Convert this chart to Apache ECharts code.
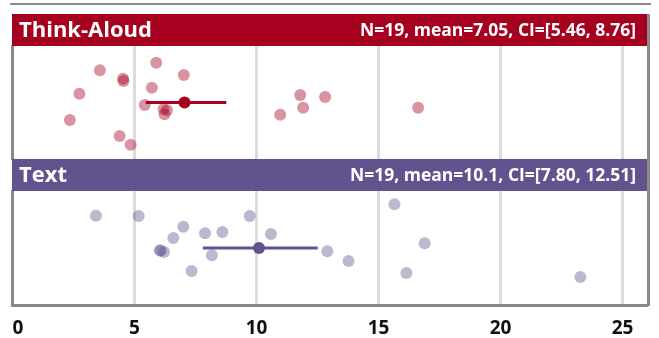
<!DOCTYPE html>
<html>
<head>
<meta charset="utf-8">
<script src="https://cdn.jsdelivr.net/npm/echarts@6/dist/echarts.min.js"></script>
<style>
  html, body { margin: 0; padding: 0; background: #fff; }
  #chart { width: 659px; height: 338px; }
</style>
</head>
<body>
<div id="chart"></div>
<script>
// Think-Aloud condition: observed values and vertical jitter (0..1 within panel)
const thinkAloudValues = [3.58, 4.53, 4.55, 2.74, 2.35, 4.39, 4.84, 5.89, 7.02, 5.71,
                          5.42, 6.19, 6.33, 6.23, 10.97, 11.79, 11.91, 12.81, 16.62];
const thinkAloudJitter = [0.785, 0.711, 0.690, 0.578, 0.345, 0.204, 0.127, 0.852, 0.743, 0.631,
                          0.478, 0.442, 0.431, 0.396, 0.392, 0.566, 0.454, 0.549, 0.454];
const thinkAloudStats = { n: 19, mean: 7.05, lo: 5.46, hi: 8.76 };

// Text condition
const textValues = [3.42, 5.17, 7.00, 6.59, 6.04, 6.07, 6.21, 7.34, 7.89, 8.60,
                    9.72, 10.59, 8.17, 12.90, 13.77, 15.65, 16.89, 16.14, 23.27];
const textJitter = [0.783, 0.781, 0.687, 0.588, 0.480, 0.475, 0.465, 0.298, 0.629, 0.640,
                    0.781, 0.623, 0.436, 0.471, 0.386, 0.883, 0.541, 0.281, 0.246];
const textStats = { n: 19, mean: 10.1, lo: 7.80, hi: 12.51 };

const xTicks = [0, 5, 10, 15, 20, 25];
const xMax = 26;

const RED = '#a6001f';
const PURPLE = '#62538f';
const FONT = '"Open Sans", sans-serif';

const chart = echarts.init(document.getElementById('chart'), null, { renderer: 'canvas' });

const W = 659;
const L = 12.5, R = 647;
const panels = [
  { top: 46, height: 113, headerTop: 14 },
  { top: 191, height: 114, headerTop: 159 }
];

function xAxisFor(i, showLabels) {
  return {
    type: 'value', gridIndex: i, min: 0, max: xMax, interval: 5,
    axisLine: showLabels ? { show: true, lineStyle: { color: '#888', width: 3 } } : { show: false },
    axisTick: { show: false },
    splitLine: { show: true, showMinLine: false, showMaxLine: false,
                 lineStyle: { color: '#dcdcdc', width: 3 } },
    axisLabel: showLabels ? {
      show: true, margin: 14, color: '#111', fontSize: 19, fontWeight: 'bold', fontFamily: FONT,
      showMaxLabel: false, alignMinLabel: 'left',
      formatter: v => (xTicks.indexOf(v) >= 0 ? String(v) : '')
    } : { show: false }
  };
}

function yAxisFor(i) {
  return {
    type: 'value', gridIndex: i, min: 0, max: 1,
    axisLine: { show: true, onZero: false, lineStyle: { color: '#888', width: 3 } },
    axisTick: { show: false }, axisLabel: { show: false }, splitLine: { show: false }
  };
}

function panelSeries(i, values, jitter, stats, color) {
  return [
    {
      type: 'scatter', xAxisIndex: i, yAxisIndex: i, symbolSize: 12, z: 2,
      itemStyle: { color: color, opacity: 0.42 },
      data: values.map((v, k) => [v, jitter[k]])
    },
    {
      type: 'line', xAxisIndex: i, yAxisIndex: i, symbol: 'none', z: 3,
      lineStyle: { color: color, width: 3 },
      data: [[stats.lo, 0.5], [stats.hi, 0.5]]
    },
    {
      type: 'scatter', xAxisIndex: i, yAxisIndex: i, symbolSize: 12, z: 4,
      itemStyle: { color: color, opacity: 1 },
      data: [[stats.mean, 0.5]]
    }
  ];
}

function header(p, color, title, stats) {
  const h = 32;
  const cy = p.headerTop + h / 2 + 1;
  return [
    { type: 'rect', shape: { x: 12, y: p.headerTop, width: R - 12, height: h },
      style: { fill: color }, z: 10 },
    { type: 'text', x: 19, y: cy, z: 11,
      style: { text: title, fill: '#fff', font: 'bold 22px ' + FONT,
               align: 'left', verticalAlign: 'middle' } },
    { type: 'text', x: 636, y: cy, z: 11,
      style: { text: 'N=' + stats.n + ', mean=' + stats.mean + ', CI=[' +
                     stats.lo.toFixed(2) + ', ' + stats.hi.toFixed(2) + ']',
               fill: '#fff', font: 'bold 17.5px ' + FONT,
               align: 'right', verticalAlign: 'middle' } }
  ];
}

const option = {
  animation: false,
  backgroundColor: '#fff',
  grid: panels.map(p => ({ left: L, right: W - R, top: p.top, height: p.height })),
  xAxis: [xAxisFor(0, false), xAxisFor(1, true)],
  yAxis: [yAxisFor(0), yAxisFor(1)],
  series: [
    ...panelSeries(0, thinkAloudValues, thinkAloudJitter, thinkAloudStats, RED),
    ...panelSeries(1, textValues, textJitter, textStats, PURPLE)
  ],
  graphic: [
    // rule across the top
    { type: 'rect', shape: { x: 10, y: 3, width: 641, height: 2 }, style: { fill: '#8a8a8a' }, z: 12 },
    // right edge of the panel box
    { type: 'rect', shape: { x: 647, y: 14, width: 3, height: 292 }, style: { fill: '#8a8a8a' }, z: 12 },
    ...header(panels[0], RED, 'Think-Aloud', thinkAloudStats),
    ...header(panels[1], PURPLE, 'Text', textStats)
  ]
};

chart.setOption(option);
</script>
</body>
</html>
